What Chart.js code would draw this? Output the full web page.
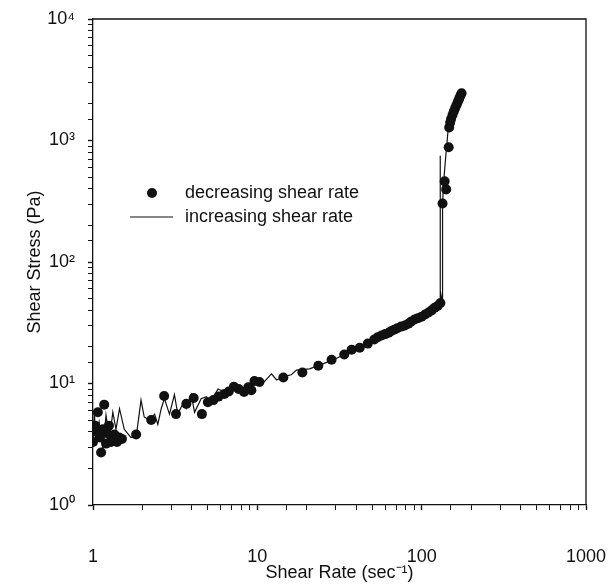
<!DOCTYPE html>
<html>
<head>
<meta charset="utf-8">
<title>Shear Stress vs Shear Rate</title>
<script src="https://cdn.jsdelivr.net/npm/chart.js@4.4.1/dist/chart.umd.min.js"></script>
<style>
    html, body { margin: 0; padding: 0; background: #fff; }
    #wrap { width: 615px; height: 584px; }
</style>
</head>
<body>
<div id="wrap"><canvas id="flow"></canvas></div>
<script>
// Flow curve: shear stress against shear rate, both on log axes
const decRate = [175, 172, 169, 166, 163, 160, 157, 154, 151, 149, 147, 146, 141, 138, 134,
    130, 125, 120, 115, 110, 105, 100, 95, 90.5, 86, 83, 79, 75, 71, 68, 65, 63, 60, 57, 54,
    51.5, 47, 42, 37.5, 33.8, 28.3, 23.5, 18.8, 14.4, 10.3, 9.6, 9.2, 8.8, 8.3, 7.7, 7.2, 6.7,
    6.3, 5.8, 5.4, 5.0, 4.6, 4.1, 3.7, 3.2, 2.71, 2.26, 1.83, 1.5, 1.44, 1.4, 1.38, 1.35, 1.3,
    1.29, 1.25, 1.22, 1.2, 1.17, 1.15, 1.12, 1.1, 1.07, 1.05, 1.03, 1.0];
const decStress = [2450, 2330, 2200, 2080, 1960, 1850, 1740, 1620, 1500, 1400, 1280, 880, 396, 461, 303,
    46, 43.5, 42, 40, 38.4, 37, 35.5, 34.5, 33.6, 32.2, 31, 30, 29.4, 28.5, 27.7, 26.9, 26.2, 25.5, 24.8, 24,
    23, 21.3, 19.7, 19, 17.3, 15.7, 14, 12.3, 11.2, 10.3, 10.5, 8.8, 9.3, 8.5, 9.0, 9.4, 8.6,
    8.2, 7.8, 7.3, 7.0, 5.6, 7.6, 6.8, 5.6, 7.9, 5.0, 3.8, 3.5, 3.6, 3.3, 3.4, 3.8, 3.5,
    3.3, 4.5, 3.9, 3.2, 6.7, 4.2, 2.7, 3.6, 5.8, 4.0, 4.5, 3.3];

const incRate = [1.0, 1.02, 1.04, 1.09, 1.15, 1.2, 1.26, 1.32, 1.38, 1.45, 1.55, 1.7, 1.83, 1.96,
    2.05, 2.2, 2.37, 2.48, 2.6, 2.72, 2.92, 3.13, 3.28, 3.52, 3.69, 3.96, 4.15, 4.55, 4.89, 5.24,
    5.76, 6.32, 7.26, 8.36, 9.63, 10.6, 12.2, 13.1, 14.4, 16.1, 17.3, 20.8, 25, 30, 40, 50, 60,
    70, 80, 90, 100, 110, 120, 131, 129.5, 130, 133, 134, 136, 139, 143, 146, 150, 158, 168, 175];
const incStress = [3.3, 5.8, 3.1, 4.8, 2.9, 5.5, 3.5, 5.8, 4.2, 6.2, 4.2, 3.6, 3.6, 7.3,
    5.3, 5.0, 5.6, 4.6, 6.2, 7.5, 5.6, 8.1, 5.6, 6.8, 6.2, 8.1, 5.8, 7.5, 7.8, 7.1,
    9.0, 8.5, 9.8, 8.2, 9.9, 9.8, 12.0, 10.7, 11.4, 11.8, 12.9, 13.2, 14.5, 16, 19.5, 22.5, 25.5,
    28, 30.5, 33, 35.5, 38.5, 42, 46, 750, 58, 48, 300, 450, 650, 1000, 1400, 1750, 2000, 2250, 2450];

const xTickLabels = [1, 10, 100, 1000];
const yTickLabels = ['10⁰', '10¹', '10²', '10³', '10⁴'];

const FONT = "'Liberation Sans', Arial, Helvetica, sans-serif";
const INK = '#111';

const toPoints = (xs, ys) => xs.map((x, i) => ({ x: x, y: ys[i] }));

// top and right edges of the box
const framePlugin = {
    id: 'frame',
    afterDatasetsDraw(chart) {
        const { ctx, chartArea: a } = chart;
        ctx.save();
        ctx.strokeStyle = INK;
        ctx.lineWidth = 1.3;
        ctx.beginPath();
        ctx.moveTo(a.left, a.top);
        ctx.lineTo(a.right, a.top);
        ctx.lineTo(a.right, a.bottom);
        ctx.stroke();
        ctx.restore();
    }
};

// legend sits inside the plot, upper left
const insetLegend = {
    id: 'insetLegend',
    afterDraw(chart) {
        const { ctx, chartArea: a } = chart;
        const x0 = a.left;
        const y0 = a.top;
        ctx.save();
        ctx.fillStyle = INK;
        ctx.strokeStyle = INK;
        ctx.beginPath();
        ctx.arc(x0 + 59, y0 + 174, 5, 0, Math.PI * 2);
        ctx.fill();
        ctx.lineWidth = 1.1;
        ctx.beginPath();
        ctx.moveTo(x0 + 37, y0 + 198);
        ctx.lineTo(x0 + 80, y0 + 198);
        ctx.stroke();
        ctx.font = '18px ' + FONT;
        ctx.textBaseline = 'middle';
        ctx.fillText('decreasing shear rate', x0 + 92, y0 + 174);
        ctx.fillText('increasing shear rate', x0 + 92, y0 + 198);
        ctx.restore();
    }
};

// fixed axis sizes, and no extra room reserved for overhanging labels
const fixAxis = (w, h) => s => {
    if (w) s.width = w;
    if (h) s.height = h;
    s.paddingLeft = s.paddingRight = s.paddingTop = s.paddingBottom = 0;
};

const axisBase = {
    type: 'logarithmic',
    grid: {
        drawOnChartArea: false,
        drawTicks: true,
        tickLength: 5,
        tickColor: INK,
        tickWidth: ctx => (ctx.tick && ctx.tick.major ? 1.4 : 1)
    },
    border: { display: true, color: INK, width: 1.3 },
};

new Chart(document.getElementById('flow').getContext('2d'), {
    type: 'scatter',
    data: {
        datasets: [
            {
                label: 'decreasing shear rate',
                data: toPoints(decRate, decStress),
                pointRadius: 5,
                pointBackgroundColor: INK,
                pointBorderColor: INK,
                pointBorderWidth: 0,
                showLine: false
            },
            {
                label: 'increasing shear rate',
                data: toPoints(incRate, incStress),
                showLine: true,
                borderColor: INK,
                borderWidth: 1.2,
                pointRadius: 0,
                tension: 0
            }
        ]
    },
    options: {
        animation: false,
        responsive: true,
        maintainAspectRatio: false,
        layout: { padding: { left: 0, top: 19, right: 29, bottom: 0 } },
        plugins: {
            legend: { display: false },
            tooltip: { enabled: false }
        },
        scales: {
            x: {
                ...axisBase,
                min: 1,
                max: 1000,
                afterFit: fixAxis(0, 79),
                ticks: {
                    autoSkip: false,
                    maxRotation: 0,
                    padding: 36,
                    color: INK,
                    font: { family: FONT, size: 18 },
                    callback: v => xTickLabels.includes(v) ? String(v) : ''
                },
                title: {
                    display: true,
                    text: 'Shear Rate (sec⁻¹)',
                    color: INK,
                    font: { family: FONT, size: 18 },
                    padding: { top: 0, bottom: 0 }
                }
            },
            y: {
                ...axisBase,
                min: 1,
                max: 10000,
                afterFit: fixAxis(93, 0),
                ticks: {
                    autoSkip: false,
                    padding: 13,
                    color: INK,
                    font: { family: FONT, size: 18 },
                    callback: v => {
                        const e = Math.round(Math.log10(v));
                        return Math.abs(v - Math.pow(10, e)) < 1e-9 ? yTickLabels[e] : '';
                    }
                },
                title: {
                    display: true,
                    text: 'Shear Stress (Pa)',
                    color: INK,
                    font: { family: FONT, size: 18 },
                    padding: { top: 24, bottom: 0 }
                }
            }
        }
    },
    plugins: [framePlugin, insetLegend]
});
</script>
</body>
</html>
